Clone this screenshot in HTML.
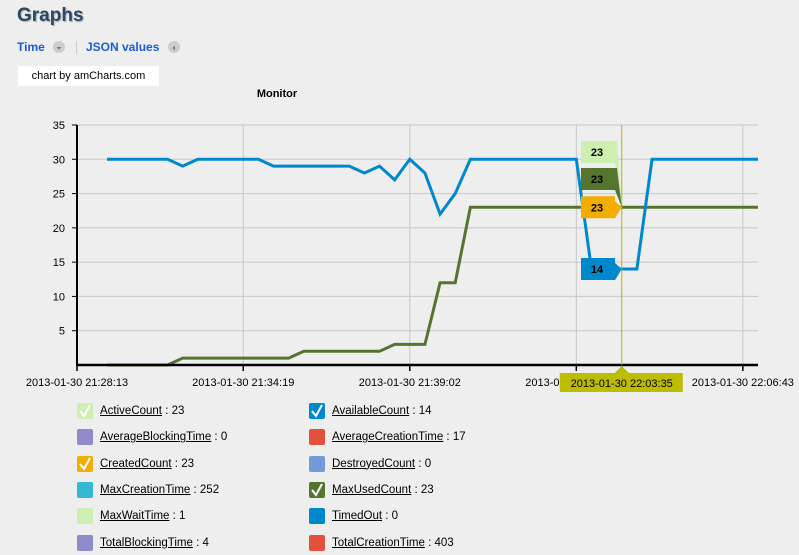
<!DOCTYPE html>
<html><head><meta charset="utf-8"><style>
body{margin:0;width:799px;height:555px;background:#eeeeee;font-family:"Liberation Sans",sans-serif;overflow:hidden;position:relative}
.abs{position:absolute}
#title{left:17px;top:5px;font-size:19px;font-weight:bold;color:#2a4765;text-shadow:1px 1px 1px #aaa}
.tab{top:40px;font-size:12px;font-weight:bold;color:#1a5dd6}
.circ{width:12px;height:12px;border-radius:6px;background:#ccc;top:41px}
#credit{left:18px;top:66px;width:141px;height:20px;background:#fff;font-size:11px;line-height:20px;text-align:center;color:#000}
.leg{font-size:11.5px;color:#000}
.leg u{text-decoration:underline}
.mk{width:16px;height:16px;border-radius:2px}
</style></head><body>
<div id="title" class="abs">Graphs</div>
<div class="abs tab" style="left:17px">Time</div>
<div class="abs circ" style="left:53px"><svg width="12" height="12"><path d="M3.5 5 L8.5 5 L6 7.5Z" fill="#777"/></svg></div>
<div class="abs" style="left:76px;top:41px;width:1px;height:13px;background:#ccc"></div>
<div class="abs tab" style="left:86px">JSON values</div>
<div class="abs circ" style="left:168px"><svg width="12" height="12"><path d="M7 3.5 L7 8.5 L4.5 6Z" fill="#777"/></svg></div>
<div id="credit" class="abs">chart by amCharts.com</div>
<svg class="abs" style="left:0;top:0" width="799" height="400" id="chart">
<text x="277" y="97" font-size="11" font-weight="bold" text-anchor="middle">Monitor</text>
<g id="grid"></g><g id="lines"></g><g id="axes"></g><g id="cursor"></g>
</svg>
<div id="legend"></div>
<script>
const yTicks=[5,10,15,20,25,30,35];
const xLabels=["2013-01-30 21:28:13","2013-01-30 21:34:19","2013-01-30 21:39:02","2013-01-30 21:58:10","2013-01-30 22:06:43"];
const xLabelIdx=[-2,9,20,31,42];
const availableCount=[30,30,30,30,30,29,30,30,30,30,30,29,29,29,29,29,29,28,29,27,30,28,22,25,30,30,30,30,30,30,30,30,14,14,14,14,30,30,30,30,30,30,30,30];
const maxUsedCount=[0,0,0,0,0,1,1,1,1,1,1,1,1,2,2,2,2,2,2,3,3,3,12,12,23,23,23,23,23,23,23,23,23,23,23,23,23,23,23,23,23,23,23,23];
const cursorIdx=34;
const cursorLabel="2013-01-30 22:03:35";
const balloonValues=[23,23,23,14];
const legendNames=["ActiveCount","AvailableCount","AverageBlockingTime","AverageCreationTime","CreatedCount","DestroyedCount","MaxCreationTime","MaxUsedCount","MaxWaitTime","TimedOut","TotalBlockingTime","TotalCreationTime"];
const legendValues=[23,14,0,17,23,0,252,23,1,0,4,403];
const legendColors=["#cdefb0","#0088cc","#8f8bcb","#e4513a","#f2ad00","#7299d8","#35b8d3","#55752f","#cdefb0","#0088cc","#8f8bcb","#e4513a"];
const legendChecked=[1,1,0,0,1,0,0,1,0,0,0,0];

const NS="http://www.w3.org/2000/svg";
const X0=77,X1=758,Y0=365,Y1=125;
const xs=i=>107+i*(758-107)/43;
const ys=v=>Y0-(v/35)*(Y0-Y1);
function mk(tag,attrs,parent){const e=document.createElementNS(NS,tag);for(const k in attrs)e.setAttribute(k,attrs[k]);parent.appendChild(e);return e;}
const grid=document.getElementById('grid'),axes=document.getElementById('axes'),lines=document.getElementById('lines'),cur=document.getElementById('cursor');
yTicks.forEach(v=>{
 const l=mk('line',{x1:X0,x2:X1,y1:ys(v),y2:ys(v),stroke:'#c8c8c8','stroke-width':1},grid);
 
 
 mk('line',{x1:X0-5,x2:X0,y1:ys(v),y2:ys(v),stroke:'#000'},axes);
 const t=mk('text',{x:X0-12,y:ys(v)+4,'font-size':11,'text-anchor':'end'},axes);t.textContent=v;
 
 
});
xLabels.forEach((s,k)=>{
 const x=k==0?X0:xs(xLabelIdx[k]);
 if(k>0){const g=mk('line',{x1:x,x2:x,y1:Y1,y2:Y0,stroke:'#c8c8c8'},grid);
 
 }
 mk('line',{x1:x,x2:x,y1:Y0,y2:Y0+6,stroke:'#000','stroke-width':1.5},axes);
 const t=mk('text',{x:x,y:386,'font-size':11,'text-anchor':'middle'},axes);t.textContent=s;
 
 
});
mk('line',{x1:X0,x2:X0,y1:Y1,y2:Y0+1,stroke:'#000','stroke-width':2},axes);
mk('line',{x1:X0-1,x2:X1,y1:Y0,y2:Y0,stroke:'#000','stroke-width':2.5},axes);
function series(arr,color,name){
 const p=mk('polyline',{points:arr.map((v,i)=>xs(i)+','+ys(v)).join(' '),fill:'none',stroke:color,'stroke-width':3,'stroke-linejoin':'miter'},lines);
 
 
}
series(maxUsedCount,'#55752f','max-used-count-line');
series(availableCount,'#0088cc','available-count-line');
const cx=xs(cursorIdx);
const cl=mk('line',{x1:cx,x2:cx,y1:Y1,y2:Y0,stroke:'#b5b500','stroke-width':1},cur);


mk('path',{d:`M${cx-7} 373 L${cx} 366 L${cx+7} 373Z`,fill:'#bcbc00'},cur);
const cb=mk('rect',{x:cx-62,y:373,width:123,height:19,fill:'#bcbc00'},cur);


const ct=mk('text',{x:cx,y:387,'font-size':11,'text-anchor':'middle'},cur);ct.textContent=cursorLabel;
const bCols=['#cdefb0','#55752f','#f2ad00','#0088cc'];
const bY=[141,168,ys(balloonValues[2])-11,ys(balloonValues[3])-11];
const bNames=['active-count-balloon','max-used-count-balloon','created-count-balloon','available-count-balloon'];
balloonValues.forEach((v,k)=>{
 const y=bY[k],ty=k<2?ys(balloonValues[2]):y+11;
 const g=mk('g',{},cur);
 
 
 mk('path',{d:`M581 ${y} L615 ${y} L${k<2?617:615} ${y+(k<2?0:5)} L${cx} ${ty} L615 ${y+22} L581 ${y+22}Z`,fill:bCols[k]},g);
 const t=mk('text',{x:597,y:y+15,'font-size':11,'font-weight':'bold','text-anchor':'middle'},g);t.textContent=v;
});
const leg=document.getElementById('legend');
legendNames.forEach((n,i)=>{
 const col=i%2,row=Math.floor(i/2);
 const top=403+row*26.3;
 const m=document.createElement('div');
 m.className='abs mk';m.style.left=(col?309:77)+'px';m.style.top=top+'px';m.style.background=legendColors[i];
 if(legendChecked[i])m.innerHTML='<svg width="16" height="16"><path d="M3 8 L7 13 L13 2" fill="none" stroke="#fff" stroke-width="2"/></svg>';
 
 
 leg.appendChild(m);
 const t=document.createElement('div');
 t.className='abs leg';t.style.left=(col?332:100)+'px';t.style.top=(top+2)+'px';
 t.innerHTML='<u>'+n+'</u> : '+legendValues[i];
 
 
 leg.appendChild(t);
});
</script>
</body></html>
